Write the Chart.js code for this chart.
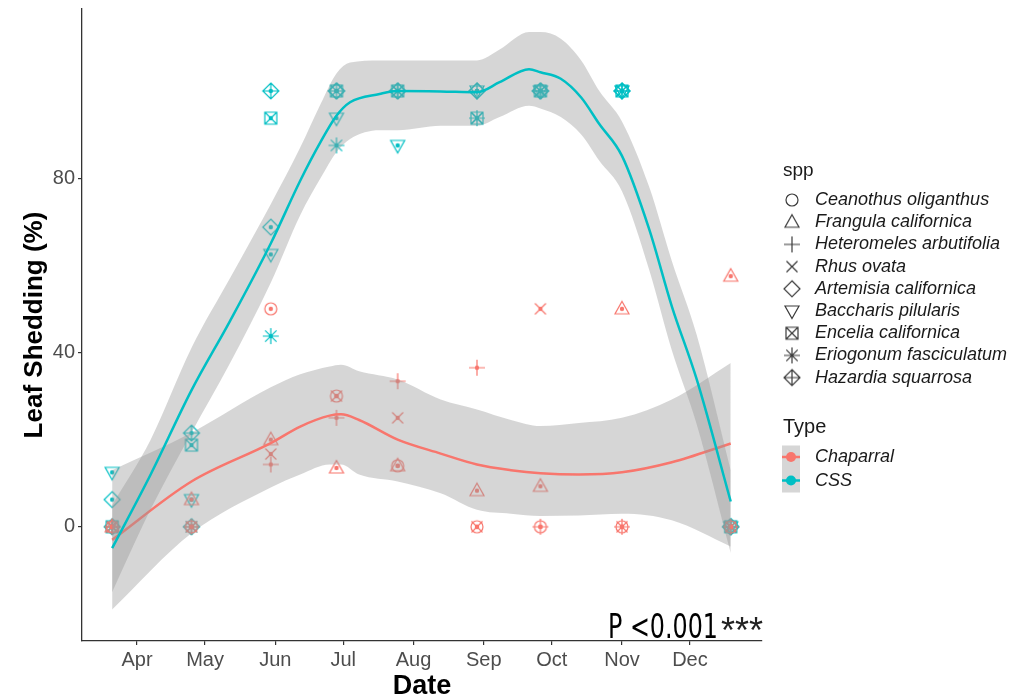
<!DOCTYPE html>
<html lang="en">
<head>
<meta charset="UTF-8">
<title>Leaf Shedding</title>
<script src="https://cdn.jsdelivr.net/npm/chart.js@4.4.0/dist/chart.umd.min.js"></script>
<style>
  html, body { margin: 0; padding: 0; background: #fff; }
</style>
</head>
<body>
<canvas id="leafChart" width="1010" height="700"></canvas>
<script>
// survey dates, as day of year
const surveyDays = [80, 115, 150, 179, 206, 241, 269, 305, 353];

// leaf shedding (%) per species at each survey
const ceanothus   = [0, 0, 50, 30, 14, 0, 0, 0, 0];
const frangula    = [0, 6.25, 20, 13.5, 14, 8.3, 9.3, 50, 57.5];
const heteromeles = [0, 0, 14.3, 25, 33.4, 36.5, 0, 0, 0];
const rhus        = [0, 0, 16.7, 30, 25, 0, 50, 0, 0];
const artemisia   = [6.25, 0, 68.75, 100, 100, 100, 100, 100, 0];
const baccharis   = [12.5, 6.25, 62.5, 93.75, 87.5, 100, 100, 100, 0];
const encelia     = [0, 18.75, 93.75, 100, 100, 93.75, 100, 100, 0];
const eriogonum   = [0, 0, 43.75, 87.5, 100, 93.75, 100, 100, 0];
const hazardia    = [0, 21.5, 100, 100, 100, 100, 100, 100, 0];

// loess fit and 95% band, Chaparral
const chapFitDays = [80, 115, 150, 163, 176, 181, 189, 206, 225, 241, 256, 269, 286, 305, 327, 353];
const chapFit     = [-3, 10.4, 19.2, 23, 25.5, 25.8, 24.5, 20, 16.8, 14.3, 13, 12.3, 12.0, 12.5, 14.8, 19.1];
const chapUpper   = [13, 21.6, 32, 35, 36.8, 37.2, 35.7, 33.8, 29.2, 26.9, 24.5, 23.1, 23.8, 25, 29.2, 37.6];
const chapLower   = [-19, -1.5, 9, 12, 14.3, 14.3, 12, 10.4, 7.7, 3.9, 3.0, 2.5, 2.6, 3.0, 1.5, -4.5];

// loess fit and 95% band, CSS
const cssFitDays = [80, 97, 115, 132, 150, 163, 172, 179, 185, 198, 206, 225, 241, 251, 264, 269, 278, 287, 295, 305, 317, 327, 338, 353];
const cssFit     = [-4.9, 12, 31.3, 47.2, 65, 79.4, 88.3, 94.3, 97.4, 99.3, 100, 99.9, 99.7, 102, 105, 104.3, 102.8, 98.5, 92.4, 85.1, 68.3, 50.6, 33.8, 5.8];
const cssUpper   = [5, 20, 41, 57, 74, 87, 97, 104, 106.5, 107, 107, 107, 107, 109.5, 113.5, 113.5, 112, 107, 100, 93, 78, 61, 44, 13];
const cssLower   = [-15, 4, 21.6, 37.5, 56, 71.5, 80, 86, 89, 91, 91, 92, 92, 94, 96.6, 96, 94, 90, 84, 77, 59, 40.5, 23.5, -6];

// axis ticks
const monthStarts = [91, 121, 152, 182, 213, 244, 274, 305, 335];
const monthLabels = ['Apr', 'May', 'Jun', 'Jul', 'Aug', 'Sep', 'Oct', 'Nov', 'Dec'];
const yTicks = [0, 40, 80];

const speciesNames = ['Ceanothus oliganthus', 'Frangula californica', 'Heteromeles arbutifolia', 'Rhus ovata',
  'Artemisia californica', 'Baccharis pilularis', 'Encelia californica', 'Eriogonum fasciculatum', 'Hazardia squarrosa'];
const speciesShapes = ['circle', 'triangle', 'plus', 'cross', 'diamond', 'triangleDown', 'boxCross', 'asterisk', 'diamondPlus'];
const speciesValues = [ceanothus, frangula, heteromeles, rhus, artemisia, baccharis, encelia, eriogonum, hazardia];
const speciesType = ['Chaparral', 'Chaparral', 'Chaparral', 'Chaparral', 'CSS', 'CSS', 'CSS', 'CSS', 'CSS'];
const typeNames = ['Chaparral', 'CSS'];
const typeColors = { Chaparral: '#F8766D', CSS: '#00BFC4' };

const FONT = "'Liberation Sans', Arial, sans-serif";
const BAND = 'rgba(153,153,153,0.4)';

// small canvas glyphs used as point styles
function makeMarker(shape, color, dot) {
  const s = 22, c = s / 2;
  const cv = document.createElement('canvas');
  cv.width = s; cv.height = s;
  const g = cv.getContext('2d');
  g.strokeStyle = color;
  g.fillStyle = color;
  g.lineWidth = 1.2;
  const seg = (x1, y1, x2, y2) => { g.moveTo(c + x1, c + y1); g.lineTo(c + x2, c + y2); };
  const poly = pts => {
    g.moveTo(c + pts[0][0], c + pts[0][1]);
    pts.slice(1).forEach(p => g.lineTo(c + p[0], c + p[1]));
    g.closePath();
  };
  const diamond = () => poly([[0, -8], [8, 0], [0, 8], [-8, 0]]);
  const plus = r => { seg(-r, 0, r, 0); seg(0, -r, 0, r); };
  const cross = r => { seg(-r, -r, r, r); seg(-r, r, r, -r); };
  g.beginPath();
  switch (shape) {
    case 'circle': g.arc(c, c, 6, 0, Math.PI * 2); break;
    case 'triangle': poly([[0, -7.5], [7, 5], [-7, 5]]); break;
    case 'plus': plus(8); break;
    case 'cross': cross(5.5); break;
    case 'diamond': diamond(); break;
    case 'triangleDown': poly([[0, 7.5], [7, -5], [-7, -5]]); break;
    case 'boxCross': g.rect(c - 6, c - 6, 12, 12); cross(6); break;
    case 'asterisk': plus(8); cross(5.7); break;
    case 'diamondPlus': diamond(); plus(8); break;
  }
  g.stroke();
  if (dot) {
    g.beginPath();
    g.arc(c, c, 2.2, 0, Math.PI * 2);
    g.fill();
  }
  return cv;
}

const toXY = (xs, ys) => xs.map((x, i) => ({ x: x, y: ys[i] }));

function fitLine(xs, ys, color, order) {
  return { type: 'line', data: toXY(xs, ys), borderColor: color, borderWidth: 2.5,
    pointRadius: 0, fill: false, cubicInterpolationMode: 'monotone', order: order };
}
function bandEdge(xs, ys, order, fill) {
  return { type: 'line', data: toXY(xs, ys), borderColor: 'rgba(0,0,0,0)', borderWidth: 0,
    pointRadius: 0, fill: fill, backgroundColor: BAND, cubicInterpolationMode: 'monotone', order: order };
}

const datasets = speciesNames.map((name, i) => ({
  type: 'scatter',
  label: name,
  data: toXY(surveyDays, speciesValues[i]),
  pointStyle: makeMarker(speciesShapes[i], typeColors[speciesType[i]], true),
  pointRadius: 8,
  order: 10
}));
datasets.push(bandEdge(chapFitDays, chapLower, 6, false));
datasets.push(bandEdge(chapFitDays, chapUpper, 5, '-1'));
datasets.push(fitLine(chapFitDays, chapFit, typeColors.Chaparral, 4));
datasets.push(bandEdge(cssFitDays, cssLower, 3, false));
datasets.push(bandEdge(cssFitDays, cssUpper, 2, '-1'));
datasets.push(fitLine(cssFitDays, cssFit, typeColors.CSS, 1));

// legend for spp / Type and the P-value note
const sideNotes = {
  id: 'sideNotes',
  afterDraw(chart) {
    const ctx = chart.ctx;
    ctx.save();
    ctx.fillStyle = '#1a1a1a';
    ctx.textBaseline = 'middle';
    ctx.textAlign = 'left';
    ctx.font = '19px ' + FONT;
    ctx.fillText('spp', 783, 171);
    speciesNames.forEach((name, i) => {
      const y = 200 + i * 22.2;
      ctx.drawImage(makeMarker(speciesShapes[i], '#3a3a3a', false), 781, y - 11);
      ctx.font = 'italic 18px ' + FONT;
      ctx.fillStyle = '#1a1a1a';
      ctx.fillText(name, 815, y);
    });
    ctx.font = '20px ' + FONT;
    ctx.fillText('Type', 783, 427);
    typeNames.forEach((t, i) => {
      const y = 457 + i * 23.5;
      ctx.fillStyle = '#d6d6d6';
      ctx.fillRect(782, y - 11.5, 18, 23.5);
      ctx.strokeStyle = typeColors[t];
      ctx.lineWidth = 2.5;
      ctx.beginPath();
      ctx.moveTo(782, y); ctx.lineTo(800, y);
      ctx.stroke();
      ctx.fillStyle = typeColors[t];
      ctx.beginPath();
      ctx.arc(791, y, 5, 0, Math.PI * 2);
      ctx.fill();
      ctx.fillStyle = '#1a1a1a';
      ctx.font = 'italic 18px ' + FONT;
      ctx.fillText(t, 815, y);
    });

    // P <0.001***
    ctx.textBaseline = 'alphabetic';
    ctx.fillStyle = '#000';
    ctx.font = "33px 'Liberation Sans Narrow', 'DejaVu Sans Condensed', " + FONT;
    const pText = 'P <0.001';
    const w = ctx.measureText(pText).width;
    ctx.save();
    ctx.translate(608, 638);
    ctx.scale(110 / w, 1);
    ctx.fillText(pText, 0, 0);
    ctx.restore();
    ctx.font = '36px ' + FONT;
    ctx.fillStyle = '#222';
    ctx.fillText('***', 721, 643);
    ctx.restore();
  }
};

const axisGrid = { display: true, drawOnChartArea: false, drawTicks: true, tickLength: 4, color: '#333', lineWidth: 1.2 };
const axisBorder = { display: true, color: '#333', width: 1.3 };

new Chart(document.getElementById('leafChart'), {
  type: 'scatter',
  data: { datasets: datasets },
  options: {
    responsive: false,
    animation: false,
    events: [],
    layout: { padding: { top: 3, right: 248, bottom: 0, left: 0 } },
    plugins: { legend: { display: false }, tooltip: { enabled: false } },
    scales: {
      x: {
        type: 'linear', min: 66.7, max: 366.8,
        afterFit(s) { s.height = 59; s.paddingLeft = 0; s.paddingRight = 0; },
        afterBuildTicks(s) { s.ticks = monthStarts.map(v => ({ value: v })); },
        ticks: { autoSkip: false, maxRotation: 0, padding: 3, color: '#4d4d4d',
          font: { family: FONT, size: 20 },
          callback: v => monthLabels[monthStarts.indexOf(v)] },
        grid: axisGrid,
        border: axisBorder,
        title: { display: true, text: 'Date', color: '#000',
          font: { family: FONT, size: 27, weight: 'bold', lineHeight: 1 }, padding: { top: 0, bottom: 0 } }
      },
      y: {
        type: 'linear', min: -26.2, max: 118.8,
        afterFit(s) { s.width = 82; s.paddingTop = 0; s.paddingBottom = 0; },
        afterBuildTicks(s) { s.ticks = yTicks.map(v => ({ value: v })); },
        ticks: { padding: 3, color: '#4d4d4d', font: { family: FONT, size: 20 } },
        grid: axisGrid,
        border: axisBorder,
        title: { display: true, text: 'Leaf Shedding (%)', color: '#000',
          font: { family: FONT, size: 26, weight: 'bold' }, padding: { top: 19, bottom: 0 } }
      }
    }
  },
  plugins: [sideNotes]
});
</script>
</body>
</html>
